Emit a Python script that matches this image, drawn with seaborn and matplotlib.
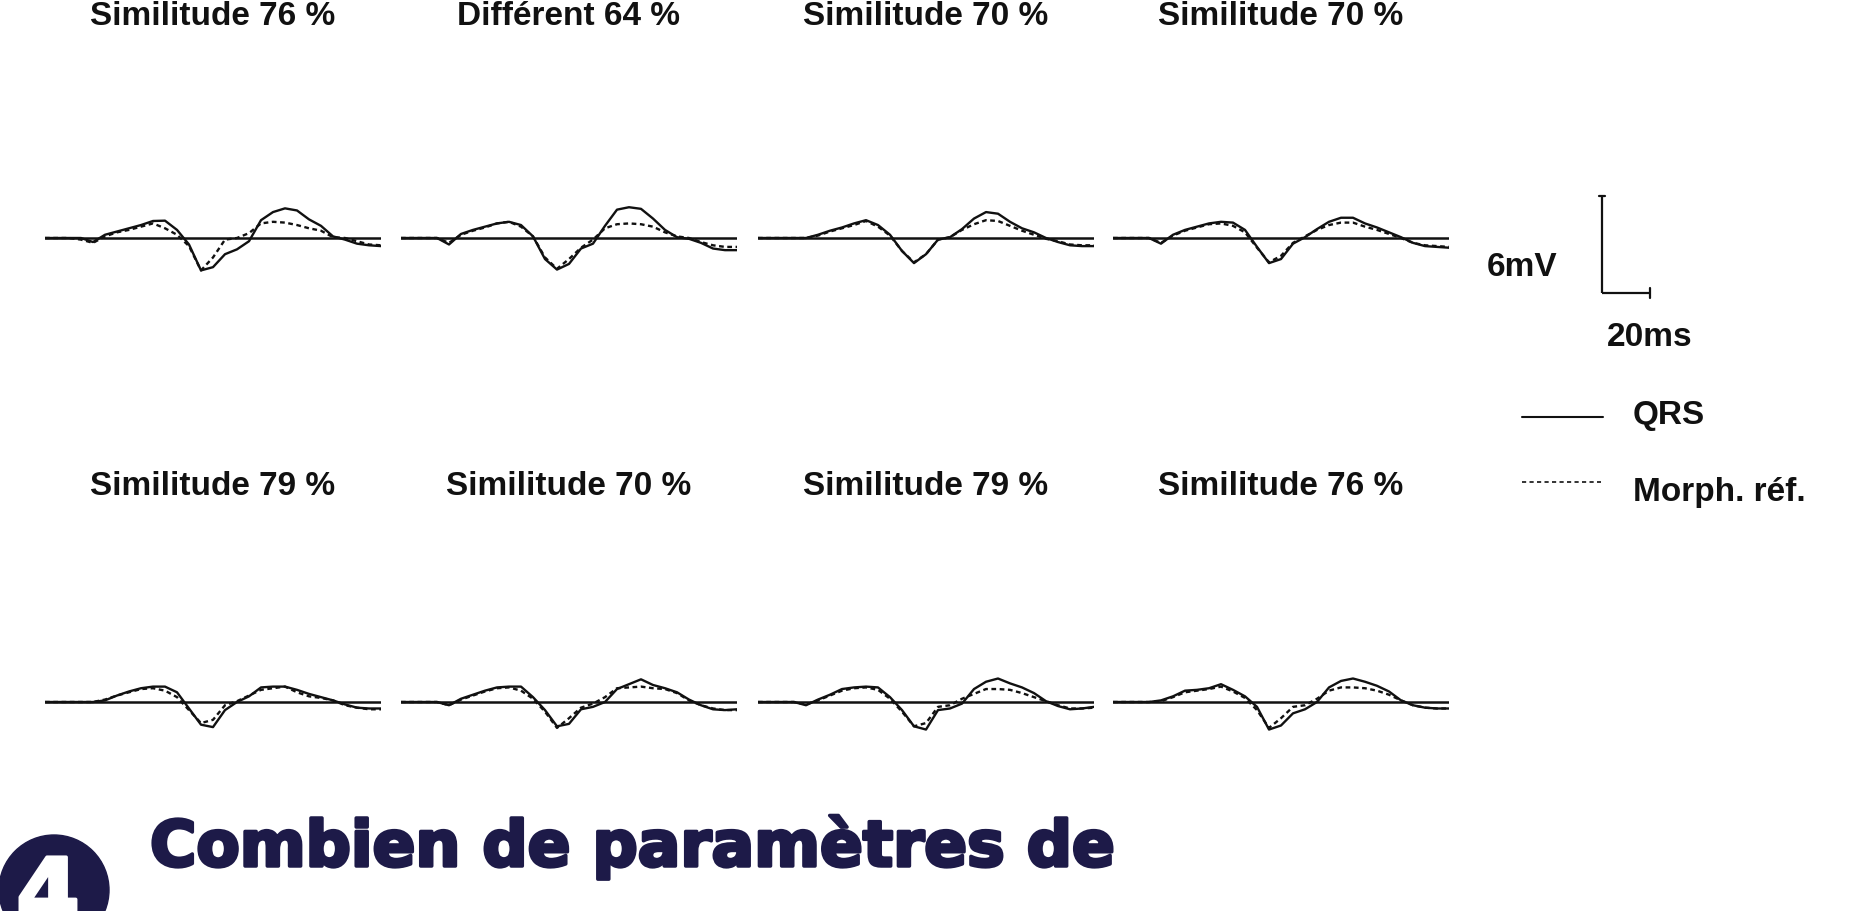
import matplotlib
matplotlib.use("Agg")
import matplotlib.pyplot as plt
from matplotlib.patches import Circle
import matplotlib.patheffects as pe
import numpy as np
import pandas as pd
import seaborn as sns

# ---------------- data ----------------
t_ms = list(range(0, 145, 5))  # time axis of each panel, ms

titles = ["Similitude 76 %", "Différent 64 %", "Similitude 70 %", "Similitude 70 %",
          "Similitude 79 %", "Similitude 70 %", "Similitude 79 %", "Similitude 76 %"]

qrs_1 = [0, 0, 0, 0, -0.25, 0.2, 0.4, 0.6, 0.8, 1.05, 1.07, 0.5, -0.4, -2.0, -1.8, -1.0, -0.7, -0.2, 1.1, 1.6, 1.83, 1.7, 1.15, 0.75, 0.1, -0.1, -0.35, -0.45, -0.5]
ref_1 = [0, 0, 0, -0.1, -0.3, 0.1, 0.35, 0.5, 0.7, 0.9, 0.6, 0.2, -0.5, -2.0, -1.2, -0.1, 0.0, 0.3, 0.9, 1.0, 0.95, 0.8, 0.6, 0.45, 0.05, 0.0, -0.2, -0.4, -0.45]
qrs_2 = [0, 0, 0, 0, -0.4, 0.25, 0.5, 0.7, 0.9, 1.0, 0.8, 0.1, -1.3, -1.95, -1.6, -0.65, -0.35, 0.75, 1.75, 1.9, 1.8, 1.2, 0.5, 0.05, -0.05, -0.3, -0.65, -0.75, -0.75]
ref_2 = [0, 0, 0, 0, -0.3, 0.2, 0.45, 0.65, 0.9, 1.0, 0.7, 0.1, -1.2, -1.9, -1.3, -0.6, -0.1, 0.6, 0.85, 0.9, 0.85, 0.7, 0.35, 0.1, 0.0, -0.25, -0.45, -0.55, -0.55]
qrs_3 = [0, 0, 0, 0, 0, 0.2, 0.45, 0.65, 0.9, 1.1, 0.8, 0.2, -0.8, -1.55, -1.0, -0.1, 0.05, 0.55, 1.2, 1.6, 1.5, 1.0, 0.6, 0.35, 0.0, -0.25, -0.45, -0.5, -0.5]
ref_3 = [0, 0, 0, 0, 0, 0.15, 0.4, 0.6, 0.8, 1.05, 0.7, 0.15, -0.8, -1.5, -1.0, -0.1, 0.05, 0.5, 0.85, 1.1, 1.05, 0.75, 0.45, 0.2, -0.05, -0.2, -0.4, -0.45, -0.45]
qrs_4 = [0, 0, 0, 0, -0.35, 0.2, 0.5, 0.7, 0.9, 1.0, 0.95, 0.5, -0.55, -1.55, -1.3, -0.35, 0.05, 0.55, 1.0, 1.25, 1.25, 0.9, 0.65, 0.35, 0.05, -0.3, -0.5, -0.55, -0.6]
ref_4 = [0, 0, 0, 0, -0.3, 0.15, 0.45, 0.65, 0.85, 0.9, 0.75, 0.35, -0.6, -1.5, -1.1, -0.3, 0.1, 0.5, 0.8, 0.95, 0.95, 0.7, 0.5, 0.25, 0.0, -0.3, -0.45, -0.5, -0.55]
qrs_5 = [0, 0, 0, 0, 0, 0.1, 0.4, 0.65, 0.85, 0.95, 0.95, 0.6, -0.4, -1.4, -1.55, -0.5, 0.0, 0.35, 0.9, 0.95, 0.95, 0.75, 0.5, 0.3, 0.1, -0.15, -0.35, -0.4, -0.4]
ref_5 = [0, 0, 0, 0, 0, 0.15, 0.4, 0.6, 0.8, 0.85, 0.7, 0.3, -0.5, -1.3, -1.1, -0.2, 0.05, 0.4, 0.75, 0.85, 0.95, 0.6, 0.35, 0.25, 0.1, -0.2, -0.35, -0.45, -0.45]
qrs_6 = [0, 0, 0, 0, -0.2, 0.2, 0.45, 0.7, 0.9, 0.95, 0.95, 0.3, -0.5, -1.5, -1.35, -0.45, -0.3, 0.0, 0.8, 1.1, 1.4, 1.05, 0.85, 0.6, 0.15, -0.2, -0.45, -0.5, -0.45]
ref_6 = [0, 0, 0, 0, -0.2, 0.15, 0.4, 0.65, 0.85, 0.9, 0.7, 0.2, -0.6, -1.6, -1.0, -0.35, -0.1, 0.3, 0.85, 0.9, 0.95, 0.85, 0.8, 0.55, 0.1, -0.2, -0.4, -0.5, -0.5]
qrs_7 = [0, 0, 0, 0, -0.2, 0.15, 0.45, 0.8, 0.9, 0.95, 0.9, 0.3, -0.5, -1.5, -1.7, -0.5, -0.4, -0.1, 0.8, 1.25, 1.45, 1.15, 0.9, 0.55, 0.05, -0.25, -0.45, -0.4, -0.3]
ref_7 = [0, 0, 0, 0, -0.15, 0.1, 0.4, 0.7, 0.85, 0.9, 0.75, 0.2, -0.6, -1.5, -1.3, -0.3, -0.2, 0.2, 0.5, 0.8, 0.8, 0.75, 0.55, 0.3, 0.05, -0.2, -0.4, -0.4, -0.35]
qrs_8 = [0, 0, 0, 0, 0.1, 0.35, 0.7, 0.75, 0.85, 1.1, 0.75, 0.35, -0.3, -1.7, -1.45, -0.7, -0.45, 0.0, 0.9, 1.3, 1.45, 1.25, 1.0, 0.65, 0.1, -0.2, -0.35, -0.4, -0.4]
ref_8 = [0, 0, 0, 0, 0.05, 0.3, 0.6, 0.7, 0.8, 0.95, 0.65, 0.25, -0.5, -1.6, -1.0, -0.3, -0.2, 0.2, 0.7, 0.9, 0.9, 0.85, 0.7, 0.45, 0.1, -0.2, -0.35, -0.4, -0.4]

scale_mv = 6     # vertical scale bar, mV
scale_ms = 20    # horizontal scale bar, ms
legend_labels = ["QRS", "Morph. réf."]
heading = "Combien de paramètres de"
badge_number = "4"

qrs_list = [qrs_1, qrs_2, qrs_3, qrs_4, qrs_5, qrs_6, qrs_7, qrs_8]
ref_list = [ref_1, ref_2, ref_3, ref_4, ref_5, ref_6, ref_7, ref_8]

rows = []
for i, (q, r) in enumerate(zip(qrs_list, ref_list)):
    for tt, v in zip(t_ms, q):
        rows.append((i, tt, v, "QRS"))
    for tt, v in zip(t_ms, r):
        rows.append((i, tt, v, "Morph. réf."))
df = pd.DataFrame(rows, columns=["panel", "t", "mV", "trace"])

# ---------------- figure ----------------
sns.set_theme(style="white")
plt.rcParams["font.family"] = ["Liberation Sans", "DejaVu Sans"]

W, H = 1874, 911
fig = plt.figure(figsize=(W / 100, H / 100), dpi=100)
fig.patch.set_facecolor("white")

PX_PER_MS = 2.4
PX_PER_MV = 16.2
INK = "#111111"
NAVY = "#1d1a48"
DASH = (2.0, 1.5)


def px_axes(left, top, width, height):
    return fig.add_axes([left / W, 1 - (top + height) / H, width / W, height / H])


# overlay axes in pixel units (for text and legend keys)
ov = px_axes(0, 0, W, H)
ov.set_xlim(0, W)
ov.set_ylim(H, 0)
ov.axis("off")

panel_left = [45, 401, 758, 1113]
row_base = [238, 702]
title_base = [25, 495]
t_max = 140
y_half = 4.0

for i in range(8):
    r, c = divmod(i, 4)
    x0 = panel_left[c]
    w = t_max * PX_PER_MS
    h = 2 * y_half * PX_PER_MV
    ax = px_axes(x0, row_base[r] - h / 2, w, h)
    sub = df[df["panel"] == i]
    ax.axhline(0, color=INK, lw=1.8, zorder=1)
    sns.lineplot(data=sub, x="t", y="mV", style="trace",
                 dashes={"QRS": "", "Morph. réf.": DASH},
                 color=INK, lw=1.7, estimator=None, sort=False,
                 legend=False, ax=ax, zorder=2)
    ax.set_xlim(0, t_max)
    ax.set_ylim(-y_half, y_half)
    ax.axis("off")
    ov.text(x0 + w / 2, title_base[r], titles[i], ha="center", va="baseline",
            fontsize=24, fontweight="bold", color=INK)

# scale bar axes (same ms / mV scale as the panels)
sb_left, sb_top, sb_w, sb_h = 1590, 185, 80, 120
sb = px_axes(sb_left, sb_top, sb_w, sb_h)
x_at0 = 1602
y_at0 = 293
sb.set_xlim(-(x_at0 - sb_left) / PX_PER_MS, (sb_left + sb_w - x_at0) / PX_PER_MS)
sb.set_ylim(-(sb_top + sb_h - y_at0) / PX_PER_MV, (y_at0 - sb_top) / PX_PER_MV)
sb.axis("off")
sb.plot([0, 0], [0, scale_mv], color=INK, lw=1.6, solid_capstyle="butt")
sb.plot([-1.2, 1.2], [scale_mv, scale_mv], color=INK, lw=1.6)
sb.plot([0, scale_ms], [0, 0], color=INK, lw=1.6, solid_capstyle="butt")
sb.plot([scale_ms, scale_ms], [-0.3, 0.3], color=INK, lw=1.6)

ov.text(1487, 276, f"{scale_mv}mV", ha="left", va="baseline", fontsize=24,
        fontweight="bold", color=INK)
ov.text(1607, 346, f"{scale_ms}ms", ha="left", va="baseline", fontsize=24,
        fontweight="bold", color=INK)

# legend
ov.plot([1522, 1603], [417, 417], color=INK, lw=1.5)
ov.plot([1522, 1601], [482, 482], color=INK, lw=1.2, dashes=(2.5, 2.0))
ov.text(1633, 424, legend_labels[0], ha="left", va="baseline", fontsize=24,
        fontweight="bold", color=INK)
ov.text(1633, 501, legend_labels[1], ha="left", va="baseline", fontsize=24,
        fontweight="bold", color=INK)

# bottom heading with numbered badge
ov.add_patch(Circle((54, 890), 55, color=NAVY, zorder=3))
ov.text(48, 924, badge_number, ha="center", va="baseline", fontsize=66,
        fontweight="bold", color="white", family=["DejaVu Sans"], zorder=4,
        path_effects=[pe.withStroke(linewidth=2.5, foreground="white")])
ov.text(150, 866, heading, ha="left", va="baseline", fontsize=45.5,
        fontweight="bold", color=NAVY, family=["DejaVu Sans"],
        path_effects=[pe.withStroke(linewidth=2.5, foreground=NAVY)])

fig.savefig("out.png", dpi=100, facecolor="white")
